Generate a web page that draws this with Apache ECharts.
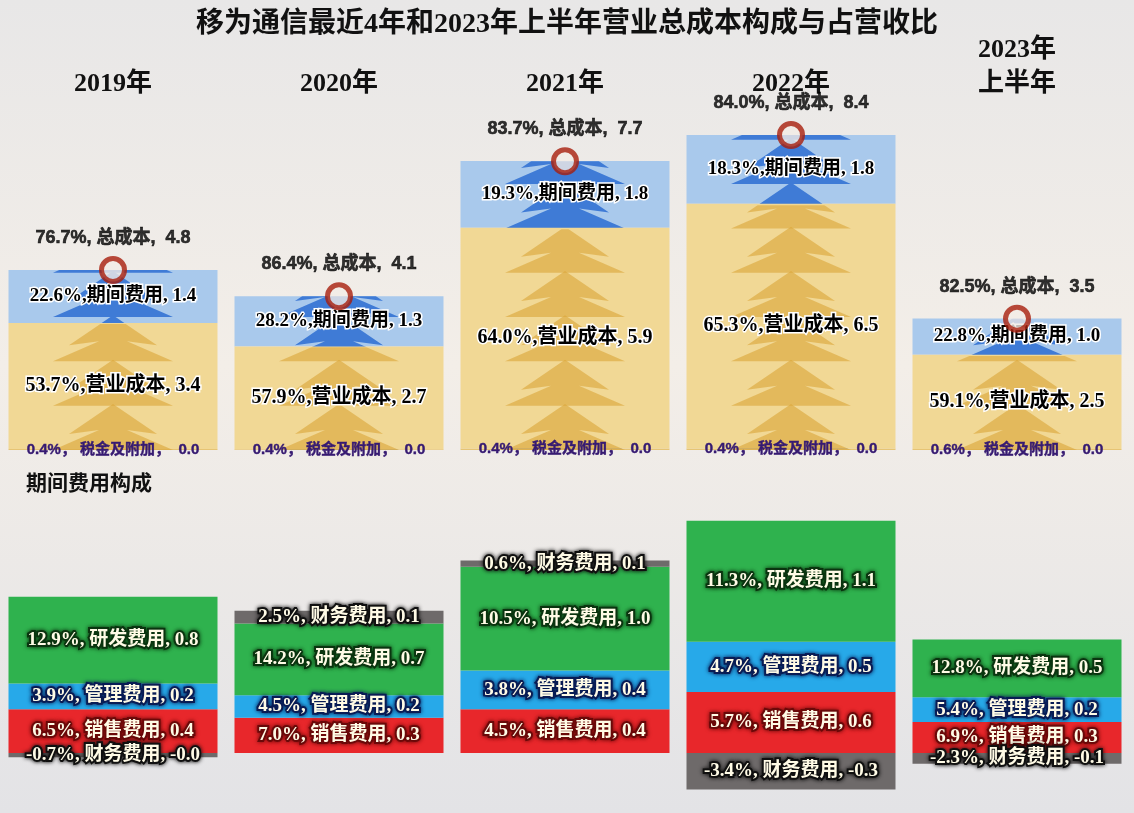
<!DOCTYPE html>
<html><head><meta charset="utf-8">
<script src="https://cdn.jsdelivr.net/npm/echarts@6/dist/echarts.min.js"></script>
<style>html,body{margin:0;padding:0;}#c{width:1134px;height:813px;}</style>
</head><body><div id="c"></div>
<script>
// ---- data ----
const years = ['2019年', '2020年', '2021年', '2022年', '2023年\n上半年'];
const totalCost = [4.80, 4.10, 7.70, 8.40, 3.50];
const totalPct = [76.7, 86.4, 83.7, 84.0, 82.5];
const opCost = [3.36, 2.74, 5.89, 6.53, 2.51];
const opPct = [53.7, 57.9, 64.0, 65.3, 59.1];
const periodCost = [1.41, 1.34, 1.78, 1.83, 0.97];
const periodPct = [22.6, 28.2, 19.3, 18.3, 22.8];
const taxCost = [0.03, 0.02, 0.04, 0.04, 0.03];
const taxPct = [0.4, 0.4, 0.4, 0.4, 0.6];
const salesCost = [0.41, 0.33, 0.41, 0.57, 0.29];
const salesPct = [6.5, 7.0, 4.5, 5.7, 6.9];
const adminCost = [0.24, 0.21, 0.36, 0.47, 0.23];
const adminPct = [3.9, 4.5, 3.8, 4.7, 5.4];
const rdCost = [0.81, 0.67, 0.97, 1.13, 0.54];
const rdPct = [12.9, 14.2, 10.5, 11.3, 12.8];
const finCost = [-0.04, 0.12, 0.06, -0.34, -0.10];
const finPct = [-0.7, 2.5, 0.6, -3.4, -2.3];

const SERIF = "'Liberation Serif','Noto Sans CJK SC',serif";
const SANS = "'Liberation Sans','Noto Sans CJK SC',sans-serif";
const BW = 209;

function fmt(pcts, vals, name, sp) {
  return p => pcts[p.dataIndex].toFixed(1) + '%,' + (sp || '') + name + ', ' + vals[p.dataIndex].toFixed(1);
}
function bottomBar(name, vals, pcts, color, outline) {
  return {
    name, type: 'bar', xAxisIndex: 1, yAxisIndex: 1, stack: 'b', data: vals,
    barWidth: BW, z: 2,
    itemStyle: { color },
    label: { show: true, position: 'inside', formatter: fmt(pcts, vals, name, ' '),
      color: '#fffbe6', fontFamily: SERIF, fontWeight: 'bold', fontSize: 19,
      textBorderColor: outline, textBorderWidth: 4,
      textShadowColor: outline, textShadowBlur: 4 }
  };
}
const treePath = 'path://M60,0 L104,30 L74,26 L120,46 L0,46 L46,26 L16,30 Z';

const chart = echarts.init(document.getElementById('c'));
chart.setOption({
  backgroundColor: { type: 'linear', x: 0, y: 0, x2: 0, y2: 1, colorStops: [
    { offset: 0, color: '#e8e7e7' }, { offset: 0.45, color: '#f3eee8' }, { offset: 1, color: '#e3e3e6' }] },
  animation: false,
  title: [
    { text: '移为通信最近4年和2023年上半年营业总成本构成与占营收比', left: 'center', top: 6,
      textStyle: { fontFamily: SERIF, fontSize: 28, fontWeight: 'bold', color: '#111' } },
    { text: '期间费用构成', left: 21, top: 469,
      textStyle: { fontFamily: SANS, fontSize: 21, fontWeight: 'bold', color: '#111' } }
  ],
  grid: [
    { left: 0, right: 4, top: 93.75, bottom: 363 },
    { left: 0, right: 4, top: 485.5, bottom: 6.5 }
  ],
  xAxis: [
    { type: 'category', gridIndex: 0, data: years, position: 'top',
      axisLine: { show: false }, axisTick: { show: false },
      axisLabel: { margin: -8, fontFamily: SERIF, fontSize: 26, fontWeight: 'bold', color: '#111', lineHeight: 34 } },
    { type: 'category', gridIndex: 1, data: years, show: false }
  ],
  yAxis: [
    { type: 'value', gridIndex: 0, min: 0, max: 9.5, show: false, splitLine: { show: false } },
    { type: 'value', gridIndex: 1, min: -0.5, max: 2.5, show: false, splitLine: { show: false } }
  ],
  series: [
    // top stacked bars
    { name: '税金及附加', type: 'bar', stack: 's', data: taxCost, barWidth: BW, barGap: '-100%', z: 3,
      itemStyle: { color: '#e6c474' } },
    { name: '营业成本', type: 'bar', stack: 's', data: opCost, barWidth: BW, z: 3,
      itemStyle: { color: '#f1d895' } },
    { name: '期间费用', type: 'bar', stack: 's', data: periodCost, barWidth: BW, z: 1,
      itemStyle: { color: '#a9c9ec' } },
    // decorations
    { name: 'blueDeco', type: 'pictorialBar', data: totalCost, symbol: treePath, symbolSize: [120, 46],
      symbolRepeat: true, symbolClip: true, symbolMargin: 0, z: 2,
      itemStyle: { color: '#3f7bd6' }, silent: true },
    { name: 'goldDeco', type: 'pictorialBar', data: opCost, symbol: treePath, symbolSize: [120, 46],
      symbolRepeat: true, symbolClip: true, symbolMargin: 0, z: 4,
      itemStyle: { color: 'rgba(218,165,55,0.6)' }, silent: true },
    // label carriers (transparent)
    { name: 'lblTax', type: 'bar', stack: 'L', data: taxCost, barWidth: BW, z: 6,
      itemStyle: { color: 'rgba(0,0,0,0)' },
      label: { show: true, position: 'inside', color: '#361a72', fontFamily: SANS, fontWeight: 'bold', fontSize: 15,
        textBorderColor: '#361a72', textBorderWidth: 0.4,
        formatter: p => taxPct[p.dataIndex].toFixed(1) + '%， 税金及附加，  ' + taxCost[p.dataIndex].toFixed(1) } },
    { name: 'lblOp', type: 'bar', stack: 'L', data: opCost, barWidth: BW, z: 6,
      itemStyle: { color: 'rgba(0,0,0,0)' },
      label: { show: true, position: 'inside', color: '#000', fontFamily: SERIF, fontWeight: 'bold', fontSize: 20,
        textBorderColor: '#fff', textBorderWidth: 3, formatter: fmt(opPct, opCost, '营业成本') } },
    { name: 'lblPeriod', type: 'bar', stack: 'L', data: periodCost, barWidth: BW, z: 6,
      itemStyle: { color: 'rgba(0,0,0,0)' },
      label: { show: true, position: 'inside', color: '#000', fontFamily: SERIF, fontWeight: 'bold', fontSize: 19,
        textBorderColor: '#fff', textBorderWidth: 3, formatter: fmt(periodPct, periodCost, '期间费用') } },
    // total marker
    { name: '总成本', type: 'scatter', data: totalCost, symbol: 'circle', symbolSize: 23, z: 7,
      itemStyle: { color: '#f3ece6', borderColor: '#a81e0c', borderWidth: 5 },
      label: { show: true, position: 'top', distance: 9, color: '#000', fontFamily: SANS, fontWeight: 'bold', fontSize: 18,
        textBorderColor: '#000', textBorderWidth: 0.6,
        formatter: p => totalPct[p.dataIndex].toFixed(1) + '%, 总成本,  ' + totalCost[p.dataIndex].toFixed(1) } },
    // bottom stacked bars
    bottomBar('销售费用', salesCost, salesPct, '#e8272b', '#6b0a0a'),
    bottomBar('管理费用', adminCost, adminPct, '#27a9e9', '#0a1d55'),
    bottomBar('研发费用', rdCost, rdPct, '#2fb24e', '#0b3510'),
    bottomBar('财务费用', finCost, finPct, '#6e6a6a', '#111')
  ]
});
</script></body></html>
